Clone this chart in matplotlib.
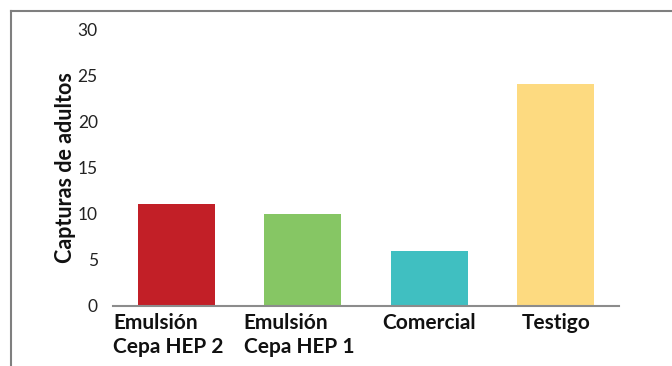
import matplotlib
matplotlib.use("Agg")
import matplotlib.pyplot as plt
from matplotlib.lines import Line2D
from matplotlib.transforms import ScaledTranslation

categories = ["Emulsión\nCepa HEP 2", "Emulsión\nCepa HEP 1", "Comercial", "Testigo"]
values = [11, 10, 6, 24]
colors = ["#C21F27", "#86C664", "#40BFC1", "#FDDA80"]
yticks = [0, 5, 10, 15, 20, 25, 30]

plt.rcParams['font.family'] = ['Lato', 'DejaVu Sans']

W, H = 672, 366
fig = plt.figure(figsize=(W/100, H/100), dpi=100)
ax = fig.add_axes([113/W, (H-306)/H, (619-113)/W, (306-29)/H])

x = range(len(categories))
ax.bar(x, values, width=0.61, color=colors, zorder=2)
ax.set_xlim(-0.5, 3.5)
ax.set_ylim(0, 30)
ax.set_yticks(yticks)
ax.set_yticklabels([str(t) for t in yticks], fontsize=12.5, color="#222222")
ax.set_xticks(list(x))
ax.set_xticklabels(categories, fontsize=15, fontweight="bold", color="#111111",
                   multialignment="left", linespacing=1.25)
ax.tick_params(axis="both", length=0)
ax.tick_params(axis="y", pad=11)
ax.tick_params(axis="x", pad=5)
# Slight left shift of two-line labels (left-aligned blocks in the original)
for lbl, dx in zip(ax.get_xticklabels(), [-8, -4, 0, 0]):
    lbl.set_transform(lbl.get_transform() + ScaledTranslation(dx/100, 0, fig.dpi_scale_trans))
for s in ["left", "right", "top"]:
    ax.spines[s].set_visible(False)
ax.spines["bottom"].set_color("#8c8c8c")
ax.spines["bottom"].set_linewidth(1.5)
ax.set_ylabel("Capturas de adultos", fontsize=15.5, fontweight="bold", color="#111111", labelpad=1)

# outer frame (left and top)
fig.add_artist(Line2D([10.5/W, 10.5/W], [0, 1 - 10.5/H], transform=fig.transFigure, color="#7f7f7f", lw=1.5))
fig.add_artist(Line2D([10.5/W, 1], [1 - 10.5/H, 1 - 10.5/H], transform=fig.transFigure, color="#7f7f7f", lw=1.5))

fig.savefig("out.png", dpi=100)
